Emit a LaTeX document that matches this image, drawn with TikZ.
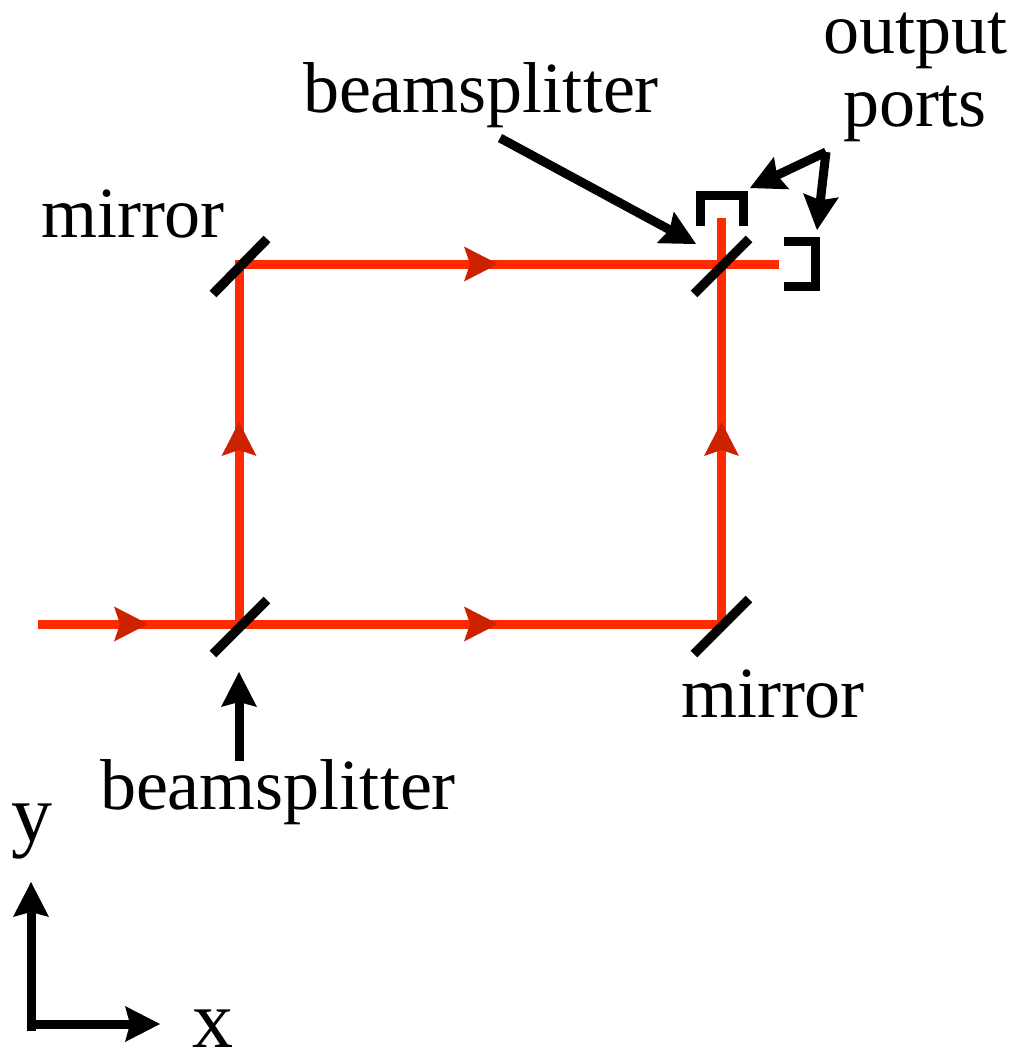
\documentclass[tikz,border=0pt]{standalone}
\usepackage{fontspec}
\setmainfont{Liberation Serif}
\usetikzlibrary{arrows.meta}
\definecolor{beamred}{HTML}{FF2A00}
\definecolor{tipred}{HTML}{CC2200}
\tikzset{
  x=1pt,y=-1pt,
  lbl/.style={anchor=base west,inner sep=0pt,outer sep=0pt,font=\fontsize{72}{72}\selectfont},
  axislbl/.style={lbl,font=\fontsize{82}{82}\selectfont},
  beam/.style={line width=9pt,draw=beamred},
  beamarrow/.style={beam,-{Stealth[length=34pt,width=35pt,inset=6pt,color=tipred,fill=tipred,line width=0pt]}},
  optic/.style={line width=9.5pt,draw=black},
  pointer/.style={line width=9pt,draw=black,-{Stealth[length=35pt,width=36pt,inset=5pt,color=black,fill=black,line width=0pt]}},
  port/.style={line width=9pt,draw=black,miter limit=4},
}
\begin{document}
\begin{tikzpicture}
\useasboundingbox (0,0) rectangle (1012,1050);
% beam path points
\coordinate (in) at (38,624);
\coordinate (bs1) at (239,624);
\coordinate (m2) at (721.5,624);
\coordinate (m1) at (239,264);
\coordinate (bs2) at (721.5,264);
\coordinate (outT) at (721.5,218);
\coordinate (outR) at (779,264);
\coordinate (a1) at (148,624);
\coordinate (a2) at (498,624);
\coordinate (a3) at (498,264);
\coordinate (a4) at (239,422);
\coordinate (a5) at (721.5,422);
% beams
\draw[beam] (in) -- (bs1) -- (m2) -- (outT);
\draw[beam] (bs1) -- (m1) -- (outR);
\draw[beamarrow] (in) -- (a1);
\draw[beamarrow] (bs1) -- (a2);
\draw[beamarrow] (m1) -- (a3);
\draw[beamarrow] (bs1) -- (a4);
\draw[beamarrow] (m2) -- (a5);
% mirrors and beamsplitters
\coordinate (o1a) at (213,654); \coordinate (o1b) at (267,600);
\coordinate (o2a) at (213,294); \coordinate (o2b) at (267,239);
\coordinate (o3a) at (694,294); \coordinate (o3b) at (749,239);
\coordinate (o4a) at (694,654); \coordinate (o4b) at (749,599);
\draw[optic] (o1a) -- (o1b);
\draw[optic] (o2a) -- (o2b);
\draw[optic] (o3a) -- (o3b);
\draw[optic] (o4a) -- (o4b);
% output ports
\coordinate (p1a) at (700,226); \coordinate (p1b) at (700,195);
\coordinate (p1c) at (743,195); \coordinate (p1d) at (743,226);
\coordinate (p2a) at (784,241); \coordinate (p2b) at (815,241);
\coordinate (p2c) at (815,286); \coordinate (p2d) at (784,286);
\draw[port] (p1a) -- (p1b) -- (p1c) -- (p1d);
\draw[port] (p2a) -- (p2b) -- (p2c) -- (p2d);
% labels
\node[lbl] (tOutput) at (823,53) {output};
\node[lbl] (tPorts) at (843,126) {ports};
\node[lbl] (tBS2) at (303,112) {beamsplitter};
\node[lbl] (tM1) at (41,237) {mirror};
\node[lbl] (tM2) at (681,717) {mirror};
\node[lbl] (tBS1) at (100,809) {beamsplitter};
\node[axislbl] (tY) at (11,841) {y};
\node[axislbl] (tX) at (192,1047) {x};
% pointers
\coordinate (q0) at (826,152);
\coordinate (q1) at (750,188);
\coordinate (q2) at (817,230);
\coordinate (q3) at (500,138);
\coordinate (q4) at (696,244);
\coordinate (q5) at (239,761);
\coordinate (q6) at (239,672);
\draw[pointer] (q0) -- (q1);
\draw[pointer] (q0) -- (q2);
\draw[pointer] (q3) -- (q4);
\draw[pointer] (q5) -- (q6);
% axes
\coordinate (ax0) at (31,1031);
\coordinate (axy) at (31,882);
\coordinate (ax1) at (31,1024);
\coordinate (axx) at (160,1024);
\draw[pointer] (ax0) -- (axy);
\draw[pointer] (ax1) -- (axx);
\end{tikzpicture}
\end{document}
